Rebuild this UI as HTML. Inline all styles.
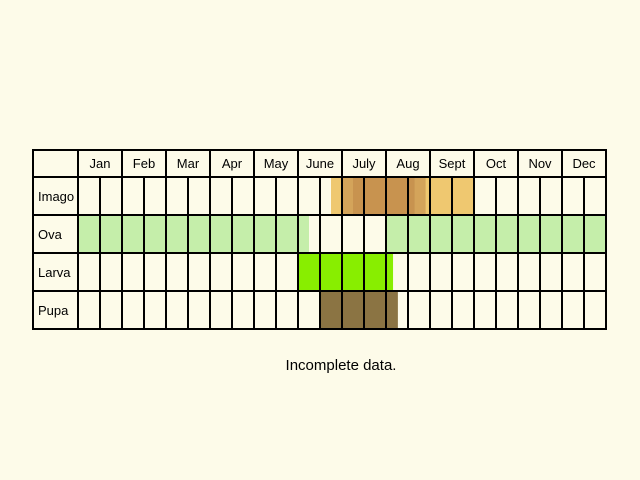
<!DOCTYPE html>
<html><head><meta charset="utf-8"><style>
html,body{margin:0;padding:0;background:#fdfbe9;}
svg{display:block;font-family:"Liberation Sans",sans-serif;}
</style></head><body>
<svg id="chart" width="640" height="480" viewBox="0 0 640 480">
<rect width="640" height="480" fill="#fdfbe9"/>
<g id="bands"></g>
<g id="grid"></g>
<g id="labels"></g>
<text x="341" y="370" font-size="15" text-anchor="middle" fill="#000">Incomplete data.</text>
</svg>
<script>
const months = ["Jan","Feb","Mar","Apr","May","June","July","Aug","Sept","Oct","Nov","Dec"];
const stages = ["Imago","Ova","Larva","Pupa"];
// bands: stage index, start month, end month (0 = start of Jan, 12 = end of Dec)
const bandStage = [0, 0, 0, 1, 1, 2, 3];
const bandStart = [5.75, 6.0, 6.25, 0, 7.0, 5.0, 5.5];
const bandEnd   = [8.98, 7.9, 7.65, 5.25, 12, 7.16, 7.27];
const bandColor = ["#efc870","#d4a45a","#c8934f","#c5eeaa","#c5eeaa","#88ee00","#8b7443"];

const NS = "http://www.w3.org/2000/svg";
const x0 = 78, mw = 44, topY = 150, headH = 27, rowH = 38, leftX = 33;
const xm = m => x0 + m * mw;
const yr = r => topY + headH + r * rowH;
const bottomY = yr(stages.length);
const rightX = xm(12);
function mk(tag, attrs, parent){const e=document.createElementNS(NS,tag);for(const k in attrs)e.setAttribute(k,attrs[k]);parent.appendChild(e);return e;}
const gb = document.getElementById("bands"), gg = document.getElementById("grid"), gl = document.getElementById("labels");
for (let i=0;i<bandStage.length;i++){
  const r = mk("rect",{x:xm(bandStart[i]),y:yr(bandStage[i]),width:xm(bandEnd[i])-xm(bandStart[i]),height:rowH,fill:bandColor[i]},gb);
  
  
}
const ob = mk("rect",{x:leftX,y:topY,width:rightX-leftX,height:bottomY-topY,fill:"none",stroke:"#000","stroke-width":2},gg);


for (let r=0;r<=stages.length;r++){
  const l = mk("line",{x1:leftX,x2:rightX,y1:yr(r),y2:yr(r),stroke:"#000","stroke-width":2},gg);
  
  
}
for (let h=0;h<=24;h++){
  const isMonth = h%2===0;
  const l = mk("line",{x1:xm(h/2),x2:xm(h/2),y1:isMonth?topY:yr(0),y2:bottomY,stroke:"#000","stroke-width":2},gg);
  
  
}
months.forEach((m,i)=>{
  const t = mk("text",{x:xm(i+0.5),y:topY+18,"font-size":13,"text-anchor":"middle"},gl);
  t.textContent = m;
  
  
});
stages.forEach((s,i)=>{
  const t = mk("text",{x:38,y:yr(i)+rowH/2+5,"font-size":13},gl);
  t.textContent = s;
  
  
});
</script>
</body></html>
